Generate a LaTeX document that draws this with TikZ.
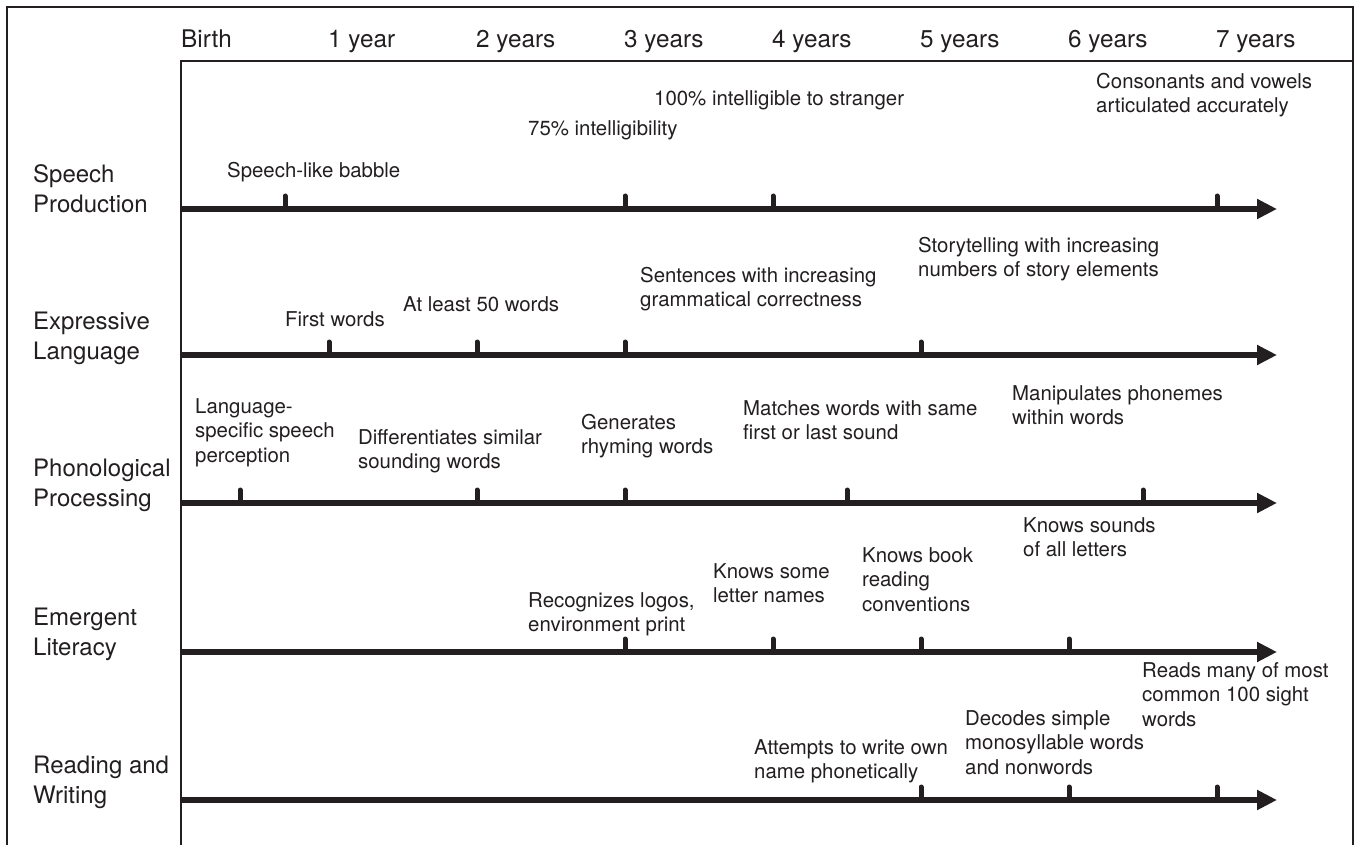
\documentclass[tikz,border=0pt]{standalone}
\usepackage{fontspec}
\setmainfont{TeX Gyre Heros}
\usetikzlibrary{arrows.meta}
\definecolor{ink}{HTML}{231F20}
\begin{document}
\begin{tikzpicture}[x=1pt,y=-1pt,
  ev/.style={anchor=north west,inner sep=0pt,align=left,font=\fontsize{20.4}{24.5}\selectfont,text=ink},
  hdr/.style={anchor=base west,inner sep=0pt,font=\fontsize{24.3}{29}\selectfont,text=ink},
  rowlab/.style={anchor=north west,inner sep=0pt,align=left,font=\fontsize{24}{29.5}\selectfont,text=ink},
  timeline/.style={draw=ink,line width=5.5pt,-{Triangle[length=20pt,width=19pt]}},
  tickmark/.style={draw=ink,line width=5pt,line cap=round},
  outer/.style={draw=ink,line width=2pt},
  inner/.style={draw=ink,line width=1.4pt}]
\useasboundingbox (0,0) rectangle (1355,845);
\fill[white] (0,0) rectangle (1355,845);
% frame
\coordinate (obl) at (7,846);
\coordinate (otl) at (7,7);
\coordinate (otr) at (1353,7);
\coordinate (obr) at (1353,846);
\draw[outer] (obl) -- (otl) -- (otr) -- (obr);
\coordinate (hl) at (181,61);
\coordinate (hr) at (1353,61);
\coordinate (vb) at (181,846);
\draw[inner] (hr) -- (hl) -- (vb);
% header
\node[hdr] (h0) at (181,48) {Birth};
\node[hdr] (h1) at (328,48) {1 year};
\node[hdr] (h2) at (476,48) {2 years};
\node[hdr] (h3) at (624,48) {3 years};
\node[hdr] (h4) at (772,48) {4 years};
\node[hdr] (h5) at (920,48) {5 years};
\node[hdr] (h6) at (1068,48) {6 years};
\node[hdr] (h7) at (1216,48) {7 years};
% row labels
\node[rowlab] (r1) at (33,162) {\strut Speech\\Production};
\node[rowlab] (r2) at (33,309) {\strut Expressive\\Language};
\node[rowlab] (r3) at (33,456) {\strut Phonological\\Processing};
\node[rowlab] (r4) at (33,605) {\strut Emergent\\Literacy};
\node[rowlab] (r5) at (33,753) {\strut Reading and\\Writing};
% timelines
\foreach \i/\y in {1/209,2/355,3/503,4/652,5/800}{
  \coordinate (s\i) at (181,\y);
  \coordinate (e\i) at (1277,\y);
  \draw[timeline] (s\i) -- (e\i);
}
% ticks
\foreach \x/\y in {285/209,625/209,773/209,1217/209,
                   329/355,477/355,625/355,921/355,
                   240/503,477/503,625/503,847/503,1143/503,
                   625/652,773/652,921/652,1069/652,
                   921/800,1069/800,1217/800}{
  \coordinate (t) at (\x,\y);
  \coordinate (tt) at (\x,\y-13);
  \draw[tickmark] (t) -- (tt);
}
% row 1
\node[ev] (a1) at (227,160) {\strut Speech-like babble};
\node[ev] (a2) at (528,118) {\strut 75\% intelligibility};
\node[ev] (a3) at (654,88) {\strut 100\% intelligible to stranger};
\node[ev] (a4) at (1096,71) {\strut Consonants and vowels\\articulated accurately};
% row 2
\node[ev] (b1) at (285,309) {\strut First words};
\node[ev] (b2) at (403,294) {\strut At least 50 words};
\node[ev] (b3) at (640,265) {\strut Sentences with increasing\\grammatical correctness};
\node[ev] (b4) at (918,235) {\strut Storytelling with increasing\\numbers of story elements};
% row 3
\node[ev] (c1) at (195,396) {\strut Language-\\specific speech\\perception};
\node[ev] (c2) at (358,427) {\strut Differentiates similar\\sounding words};
\node[ev] (c3) at (581,412) {\strut Generates\\rhyming words};
\node[ev] (c4) at (743,398) {\strut Matches words with same\\first or last sound};
\node[ev] (c5) at (1012,383) {\strut Manipulates phonemes\\within words};
% row 4
\node[ev] (d1) at (1023,515) {\strut Knows sounds\\of all letters};
\node[ev] (d2) at (862,545) {\strut Knows book\\reading\\conventions};
\node[ev] (d3) at (713,561) {\strut Knows some\\letter names};
\node[ev] (d4) at (528,590) {\strut Recognizes logos,\\environment print};
% row 5
\node[ev] (f1) at (1142,660) {\strut Reads many of most\\common 100 sight\\words};
\node[ev] (f2) at (965,708) {\strut Decodes simple\\monosyllable words\\and nonwords};
\node[ev] (f3) at (754,737) {\strut Attempts to write own\\name phonetically};
\end{tikzpicture}
\end{document}
